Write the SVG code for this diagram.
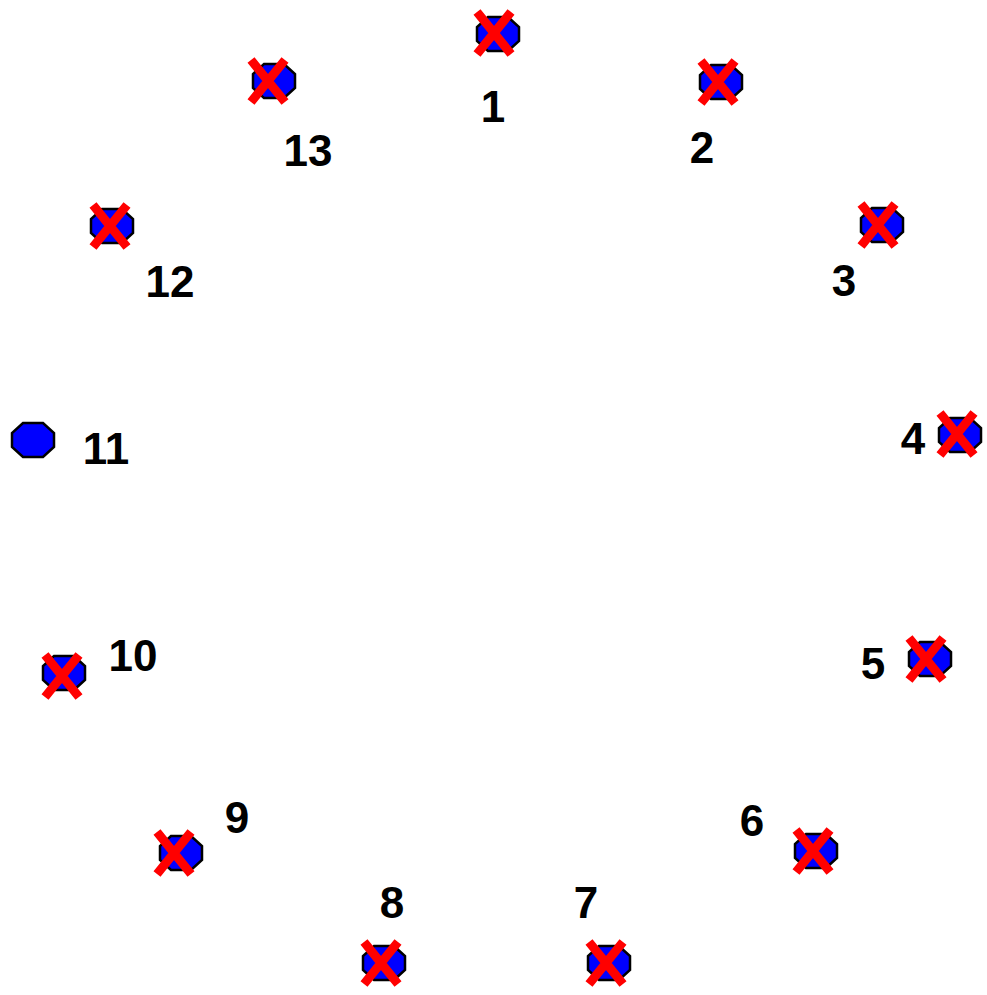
<svg xmlns="http://www.w3.org/2000/svg" xmlns:xlink="http://www.w3.org/1999/xlink" width="987" height="995" viewBox="0 0 987 995">
<style>
.lbl{font-family:"Liberation Sans",Arial,sans-serif;font-weight:bold;font-size:44px;fill:#000;text-anchor:middle}
.oct{fill:#0000ff;stroke:#000;stroke-width:2.5}
.x{stroke:#ff0000;stroke-width:9;stroke-linecap:butt;fill:none}
</style>
<defs>
<polygon id="oct" class="oct" points="-10,-17 10,-17 21,-7 21,7 10,17 -10,17 -21,7 -21,-7"/>
<g id="cross"><path class="x" d="M-17,-21 L17,21 M17,-21 L-17,21"/></g>
</defs>
<rect width="987" height="995" fill="#fff"/>
<g id="connectors"></g>
<g id="n1"><use xlink:href="#oct" x="498" y="34"/><use xlink:href="#cross" x="494" y="33"/><text class="lbl" x="493" y="122">1</text></g>
<g id="n2"><use xlink:href="#oct" x="721" y="82"/><use xlink:href="#cross" x="718" y="82"/><text class="lbl" x="702" y="163">2</text></g>
<g id="n3"><use xlink:href="#oct" x="882" y="225"/><use xlink:href="#cross" x="878" y="225"/><text class="lbl" x="844" y="296">3</text></g>
<g id="n4"><use xlink:href="#oct" x="960" y="435"/><use xlink:href="#cross" x="957" y="434"/><text class="lbl" x="913" y="454">4</text></g>
<g id="n5"><use xlink:href="#oct" x="930" y="659"/><use xlink:href="#cross" x="926" y="659"/><text class="lbl" x="873" y="679">5</text></g>
<g id="n6"><use xlink:href="#oct" x="816" y="851"/><use xlink:href="#cross" x="813" y="851"/><text class="lbl" x="752" y="836">6</text></g>
<g id="n7"><use xlink:href="#oct" x="609" y="963"/><use xlink:href="#cross" x="606" y="963"/><text class="lbl" x="586" y="918">7</text></g>
<g id="n8"><use xlink:href="#oct" x="384" y="963"/><use xlink:href="#cross" x="381" y="963"/><text class="lbl" x="392" y="918">8</text></g>
<g id="n9"><use xlink:href="#oct" x="181" y="853"/><use xlink:href="#cross" x="174" y="853"/><text class="lbl" x="237" y="833">9</text></g>
<g id="n10"><use xlink:href="#oct" x="64" y="673"/><use xlink:href="#cross" x="62" y="676"/><text class="lbl" x="133" y="671">10</text></g>
<g id="n11"><use xlink:href="#oct" x="33" y="440"/><text class="lbl" x="106" y="464">11</text></g>
<g id="n12"><use xlink:href="#oct" x="112" y="226"/><use xlink:href="#cross" x="110" y="226"/><text class="lbl" x="170" y="297">12</text></g>
<g id="n13"><use xlink:href="#oct" x="274" y="81"/><use xlink:href="#cross" x="268" y="81"/><text class="lbl" x="308" y="166">13</text></g>
</svg>
